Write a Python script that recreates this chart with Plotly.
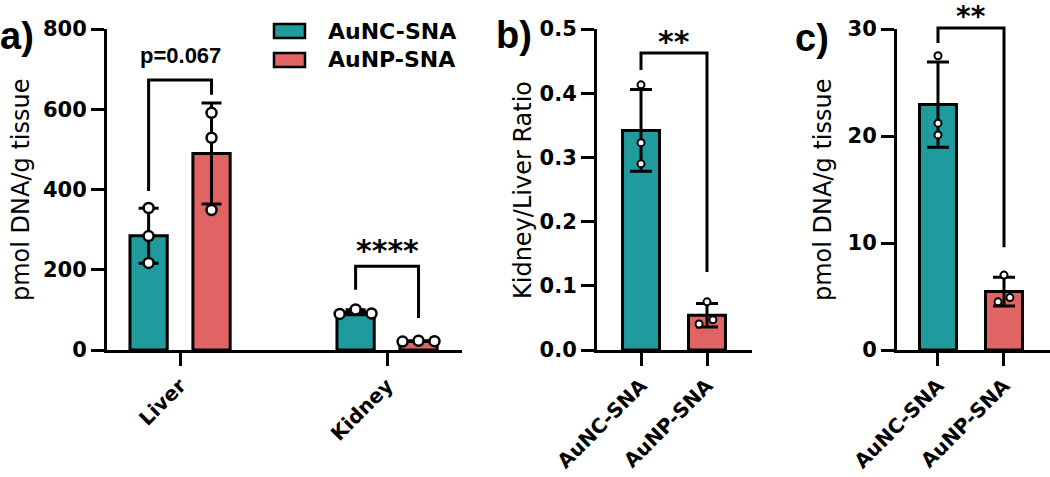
import numpy as np
import plotly.graph_objects as go

W, H = 1050, 477

# ---------------- data ----------------
series = ["AuNC-SNA", "AuNP-SNA"]
organs = ["Liver", "Kidney"]

# panel a: pmol DNA / g tissue, three replicates each
liver_aunc = [354, 284, 217]
liver_aunp = [591, 529, 349]
kidney_aunc = [90, 101, 91]
kidney_aunp = [21, 23, 22]

# panel b: kidney/liver ratio
ratio_aunc = [0.413, 0.323, 0.290]
ratio_aunp = [0.075, 0.0405, 0.047]

# panel c: pmol DNA / g tissue
c_aunc = [27.5, 21.2, 20.1]
c_aunp = [7.0, 4.5, 4.9]

a_ticks = [0, 200, 400, 600, 800]
b_ticks = [0.0, 0.1, 0.2, 0.3, 0.4, 0.5]
c_ticks = [0, 10, 20, 30]

# significance labels
a_sig = ["p=0.067", "****"]
b_sig = "**"
c_sig = "**"

# ---------------- styling ----------------
TEAL = "#1F9A9D"
RED = "#E06464"
colors = [TEAL, RED]
TICKFONT = dict(family="DejaVu Sans", size=21, color="black", weight="bold")
XTICKFONT = dict(family="DejaVu Sans", size=20, color="black", weight="bold")
TITLEFONT = dict(family="DejaVu Sans", size=24, color="black")

# panel geometry in pixels
YDOM_PX = (29, 350)
panels = {
    "a": dict(xdom=(107, 462), xr=(-0.353, 1.362), yr=(0, 800)),
    "b": dict(xdom=(597, 752), xr=(-0.667, 1.682), yr=(0, 0.5)),
    "c": dict(xdom=(897, 1050), xr=(-0.621, 1.697), yr=(0, 30)),
}


def px2paper_x(px):
    return px / W


def px2paper_y(py):
    return 1 - py / H


def xp(panel, xv):
    p = panels[panel]
    d0, d1 = px2paper_x(p["xdom"][0]), px2paper_x(p["xdom"][1])
    r0, r1 = p["xr"]
    return d0 + (xv - r0) / (r1 - r0) * (d1 - d0)


def yp(panel, yv):
    p = panels[panel]
    d0, d1 = px2paper_y(YDOM_PX[1]), px2paper_y(YDOM_PX[0])
    r0, r1 = p["yr"]
    return d0 + (yv - r0) / (r1 - r0) * (d1 - d0)


fig = go.Figure()


def add_group(xaxis, yaxis, xcenter, vals, color, width, jitter, msize, mline, capw):
    vals = np.array(vals, dtype=float)
    m = vals.mean()
    sd = vals.std(ddof=1)
    fig.add_trace(go.Bar(
        x=[xcenter], y=[m], width=width, xaxis=xaxis, yaxis=yaxis,
        marker=dict(color=color, line=dict(color="black", width=3)),
        error_y=dict(type="data", array=[sd], color="black", thickness=3, width=capw),
        showlegend=False,
    ))
    fig.add_trace(go.Scatter(
        x=[xcenter + j for j in jitter], y=vals, mode="markers", xaxis=xaxis, yaxis=yaxis,
        marker=dict(symbol="circle", color="white", size=msize,
                    line=dict(color="black", width=mline)),
        cliponaxis=False, showlegend=False,
    ))


# panel a
A_OFF = 0.152
A_W = 0.18
for i, (nc, np_) in enumerate([(liver_aunc, liver_aunp), (kidney_aunc, kidney_aunp)]):
    jit = [0, 0, 0] if i == 0 else [-0.077, 0, 0.077]
    add_group("x", "y", i - A_OFF, nc, TEAL, A_W, jit, 10, 2.5, 10)
    add_group("x", "y", i + A_OFF, np_, RED, A_W, jit, 10, 2.5, 10)

# panel b
add_group("x2", "y2", 0, ratio_aunc, TEAL, 0.56, [0, 0, 0], 7, 2, 11)
add_group("x2", "y2", 1, ratio_aunp, RED, 0.56, [0, -0.12, 0.09], 7, 2, 11)

# panel c
add_group("x3", "y3", 0, c_aunc, TEAL, 0.56, [0, 0, 0], 7, 2, 11)
add_group("x3", "y3", 1, c_aunp, RED, 0.56, [0, -0.09, 0.09], 7, 2, 11)


def xaxis_cfg(panel, ticktext, anchor):
    p = panels[panel]
    return dict(
        domain=[px2paper_x(p["xdom"][0]), px2paper_x(p["xdom"][1])],
        range=list(p["xr"]), anchor=anchor, automargin=False,
        tickvals=list(range(len(ticktext))), ticktext=ticktext,
        tickangle=-45, ticks="outside", ticklen=13, tickwidth=3, tickcolor="black",
        showline=True, linewidth=3, linecolor="black",
        showgrid=False, zeroline=False, tickfont=XTICKFONT, fixedrange=True,
    )


def yaxis_cfg(panel, tickvals, anchor, fmt):
    p = panels[panel]
    return dict(
        domain=[px2paper_y(YDOM_PX[1]), px2paper_y(YDOM_PX[0])],
        range=list(p["yr"]), anchor=anchor, automargin=False,
        tickvals=tickvals, tickformat=fmt,
        ticks="outside", ticklen=13, tickwidth=3, tickcolor="black",
        showline=True, linewidth=3, linecolor="black",
        showgrid=False, zeroline=False, tickfont=TICKFONT, fixedrange=True,
    )


shapes = []
annotations = []


def bracket(panel, x1, x2, ytop, yl, yr, label, font, lift_px):
    X1, X2 = xp(panel, x1), xp(panel, x2)
    YT, YL, YR = yp(panel, ytop), yp(panel, yl), yp(panel, yr)
    shapes.append(dict(
        type="path", xref="paper", yref="paper",
        path=f"M {X1},{YL} L {X1},{YT} L {X2},{YT} L {X2},{YR}",
        line=dict(color="black", width=3),
    ))
    annotations.append(dict(
        xref="paper", yref="paper", x=(X1 + X2) / 2, y=YT + lift_px / H,
        text=label, showarrow=False, xanchor="center", yanchor="middle", font=font,
    ))


PFONT = dict(family="Liberation Sans", size=22, color="black", weight="bold")
SFONT = dict(family="DejaVu Sans", size=30, color="black", weight="bold")
SFONT_C = dict(family="DejaVu Sans", size=28, color="black", weight="bold")

bracket("a", -A_OFF, A_OFF, 673, 396, 636, a_sig[0], PFONT, 24)
bracket("a", 1 - A_OFF, 1 + A_OFF, 209, 150, 80, a_sig[1], SFONT, 16)
bracket("b", 0, 1, 0.4626, 0.436, 0.1215, b_sig, SFONT, 12)
bracket("c", 0, 1, 30.1, 28.7, 9.6, c_sig, SFONT_C, 11)

# legend (custom, to mimic wide swatches)
for k, (name, col) in enumerate(zip(series, colors)):
    ytop = 24 + 29 * k
    shapes.append(dict(
        type="rect", xref="paper", yref="paper",
        x0=px2paper_x(274), x1=px2paper_x(305),
        y0=px2paper_y(ytop + 14), y1=px2paper_y(ytop),
        fillcolor=col, line=dict(color="black", width=2.5),
    ))
    annotations.append(dict(
        xref="paper", yref="paper", x=px2paper_x(326), y=px2paper_y(ytop + 7),
        text=name, showarrow=False, xanchor="left", yanchor="middle",
        font=dict(family="DejaVu Sans", size=22, color="black", weight="bold"),
    ))

# axis titles
for txt, xc in [("pmol DNA/g tissue", 21), ("Kidney/Liver Ratio", 523), ("pmol DNA/g tissue", 823)]:
    annotations.append(dict(
        xref="paper", yref="paper", x=px2paper_x(xc), y=px2paper_y(190),
        text=txt, showarrow=False, textangle=-90, xanchor="center", yanchor="middle",
        font=TITLEFONT,
    ))

# panel letters
for txt, xc, yc in [("a)", 17, 36), ("b)", 514, 35), ("c)", 812, 38)]:
    annotations.append(dict(
        xref="paper", yref="paper", x=px2paper_x(xc), y=px2paper_y(yc),
        text=txt, showarrow=False, xanchor="center", yanchor="middle",
        font=dict(family="Liberation Sans", size=38, color="black", weight="bold"),
    ))

fig.update_layout(
    template="none",
    width=W, height=H, margin=dict(l=0, r=0, t=0, b=0, pad=0, autoexpand=False),
    paper_bgcolor="white", plot_bgcolor="white",
    barmode="overlay", showlegend=False,
    xaxis=xaxis_cfg("a", organs, "y"),
    yaxis=yaxis_cfg("a", a_ticks, "x", "d"),
    xaxis2=xaxis_cfg("b", series, "y2"),
    yaxis2=yaxis_cfg("b", b_ticks, "x2", ".1f"),
    xaxis3=xaxis_cfg("c", series, "y3"),
    yaxis3=yaxis_cfg("c", c_ticks, "x3", "d"),
    shapes=shapes, annotations=annotations,
)

fig.write_html(
    "out.html",
    config={"displayModeBar": False},
    post_script="document.body.style.margin='0';document.body.style.overflow='hidden';",
)
